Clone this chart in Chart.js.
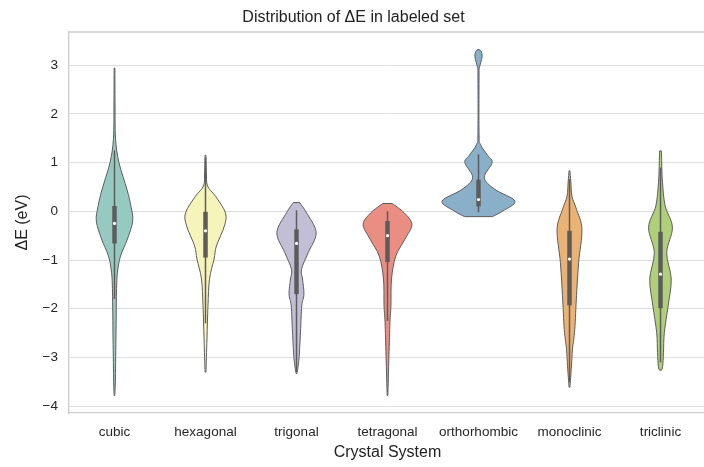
<!DOCTYPE html>
<html lang="en">
<head>
    <meta charset="UTF-8">
    <title>Distribution of ΔE in labeled set</title>
    <script src="https://cdn.jsdelivr.net/npm/chart.js"></script>
    <style>
        body { margin: 0; overflow: hidden; background: #fff; }
    </style>
</head>
<body>
    <canvas id="violinChart" width="710" height="467"></canvas>

    <script>
        // crystal systems along the x axis
        const systems = ['cubic', 'hexagonal', 'trigonal', 'tetragonal', 'orthorhombic', 'monoclinic', 'triclinic'];

        // violin outlines: [ΔE value, half width as fraction of the category slot]
        const cubicProfile = [[2.94, 0.004], [2.2, 0.006], [1.5, 0.011], [1.0, 0.049], [0.45, 0.137], [0.1, 0.181], [-0.2, 0.2], [-0.57, 0.142], [-0.92, 0.066], [-1.25, 0.033], [-1.66, 0.022], [-2.62, 0.016], [-3.5, 0.009], [-3.78, 0.004]];
        const hexagonalProfile = [[1.15, 0.005], [0.8, 0.01], [0.52, 0.022], [0.31, 0.11], [-0.03, 0.219], [-0.3, 0.208], [-0.71, 0.12], [-0.98, 0.094], [-1.39, 0.044], [-1.94, 0.027], [-2.62, 0.016], [-3.3, 0.005]];
        const trigonalProfile = [[0.18, 0.033], [-0.03, 0.11], [-0.44, 0.216], [-0.85, 0.128], [-1.19, 0.055], [-1.39, 0.066], [-1.7, 0.082], [-1.94, 0.058], [-2.48, 0.044], [-3.03, 0.027], [-3.33, 0.005]];
        const tetragonalProfile = [[0.16, 0.051], [-0.03, 0.183], [-0.27, 0.268], [-0.57, 0.192], [-0.92, 0.091], [-1.39, 0.044], [-1.94, 0.038], [-2.28, 0.027], [-2.97, 0.016], [-3.78, 0.004]];
        const orthorhombicProfile = [[3.32, 0.005], [3.28, 0.03], [3.18, 0.04], [3.05, 0.025], [2.95, 0.01], [2.8, 0.006], [1.6, 0.006], [1.37, 0.022], [1.15, 0.1], [1.0, 0.15], [0.69, 0.064], [0.45, 0.18], [0.21, 0.40], [0.01, 0.27], [-0.11, 0.153]];
        const monoclinicProfile = [[0.83, 0.005], [0.6, 0.015], [0.31, 0.027], [0.04, 0.077], [-0.37, 0.137], [-1.05, 0.1], [-1.73, 0.077], [-2.42, 0.058], [-2.83, 0.033], [-3.17, 0.022], [-3.61, 0.005]];
        const triclinicProfile = [[1.24, 0.01], [0.9, 0.015], [0.59, 0.022], [0.11, 0.051], [-0.33, 0.131], [-0.85, 0.068], [-1.39, 0.118], [-1.94, 0.084], [-2.49, 0.042], [-2.9, 0.033], [-3.18, 0.024], [-3.26, 0.012]];

        const profiles = [cubicProfile, hexagonalProfile, trigonalProfile, tetragonalProfile, orthorhombicProfile, monoclinicProfile, triclinicProfile];

        // inner box stats
        const medians = [-0.25, -0.4, -0.66, -0.5, 0.24, -0.98, -1.29];
        const q1 = [-0.66, -0.95, -1.70, -1.04, 0.1, -1.93, -1.99];
        const q3 = [0.11, -0.01, -0.37, -0.2, 0.65, -0.4, -0.42];
        const whiskerLow = [-1.8, -2.3, -3.3, -2.25, -0.02, -3.5, -3.1];
        const whiskerHigh = [1.25, 1.1, 0.02, 0.0, 1.17, 0.66, 0.9];

        const fills = ['#96cac1', '#f5f5bb', '#c1bed6', '#ea8d83', '#8aafc9', '#eab375', '#afcf78'];
        const lineGray = '#5c5c5c';
        const fontFamily = 'Liberation Sans, Arial, sans-serif';

        // smooth curve through points (catmull-rom -> bezier)
        function smoothTo(ctx, pts) {
            for (let i = 0; i < pts.length - 1; i++) {
                const p0 = pts[i - 1] || pts[i];
                const p1 = pts[i];
                const p2 = pts[i + 1];
                const p3 = pts[i + 2] || p2;
                const c1x = p1.x + (p2.x - p0.x) / 6, c1y = p1.y + (p2.y - p0.y) / 6;
                const c2x = p2.x - (p3.x - p1.x) / 6, c2y = p2.y - (p3.y - p1.y) / 6;
                ctx.bezierCurveTo(c1x, c1y, c2x, c2y, p2.x, p2.y);
            }
        }

        const violinPlugin = {
            id: 'violins',
            beforeDatasetsDraw(chart) {
                const ctx = chart.ctx;
                const xs = chart.scales.x, ys = chart.scales.y;
                const slot = xs.getPixelForValue(1) - xs.getPixelForValue(0);
                ctx.save();
                profiles.forEach((prof, i) => {
                    const cx = xs.getPixelForValue(i);
                    const right = prof.map(p => ({ x: cx + p[1] * slot, y: ys.getPixelForValue(p[0]) }));
                    const left = prof.map(p => ({ x: cx - p[1] * slot, y: ys.getPixelForValue(p[0]) })).reverse();
                    ctx.beginPath();
                    ctx.moveTo(right[0].x, right[0].y);
                    smoothTo(ctx, right);
                    ctx.lineTo(left[0].x, left[0].y);
                    smoothTo(ctx, left);
                    ctx.closePath();
                    ctx.fillStyle = fills[i];
                    ctx.fill();
                    ctx.lineWidth = 1;
                    ctx.strokeStyle = lineGray;
                    ctx.lineJoin = 'round';
                    ctx.stroke();

                    // whisker
                    ctx.beginPath();
                    ctx.lineWidth = 1.5;
                    ctx.moveTo(cx, ys.getPixelForValue(whiskerHigh[i]));
                    ctx.lineTo(cx, ys.getPixelForValue(whiskerLow[i]));
                    ctx.stroke();
                    // box
                    ctx.beginPath();
                    ctx.lineWidth = 4.5;
                    ctx.lineCap = 'butt';
                    ctx.moveTo(cx, ys.getPixelForValue(q3[i]));
                    ctx.lineTo(cx, ys.getPixelForValue(q1[i]));
                    ctx.stroke();
                });
                ctx.restore();
            },
            afterDraw(chart) {
                // top spine
                const a = chart.chartArea, ctx = chart.ctx;
                ctx.save();
                ctx.strokeStyle = '#cccccc';
                ctx.lineWidth = 1.3;
                ctx.beginPath();
                ctx.moveTo(a.left, a.top);
                ctx.lineTo(a.right, a.top);
                ctx.stroke();
                ctx.restore();
            }
        };

        const ctx = document.getElementById('violinChart').getContext('2d');
        new Chart(ctx, {
            type: 'line',
            data: {
                labels: systems,
                datasets: [{
                    label: 'median',
                    data: medians,
                    showLine: false,
                    pointRadius: 1.6,
                    pointBackgroundColor: '#ffffff',
                    pointBorderWidth: 0
                }]
            },
            plugins: [violinPlugin],
            options: {
                responsive: false,
                animation: false,
                layout: { padding: { left: 0, right: 3, top: 0, bottom: 0 } },
                plugins: {
                    legend: { display: false },
                    tooltip: { enabled: false },
                    title: {
                        display: true,
                        text: 'Distribution of ΔE in labeled set',
                        color: '#222',
                        font: { family: fontFamily, size: 16, weight: 'normal' },
                        padding: { top: 7.5, bottom: 5.3 }
                    }
                },
                scales: {
                    x: {
                        offset: true,
                        grid: { display: false, drawTicks: false },
                        border: { display: true, color: '#cccccc', width: 1.3 },
                        ticks: {
                            autoSkip: false, maxRotation: 0, padding: 11, color: '#262626',
                            font: { family: fontFamily, size: 13.5 }
                        },
                        title: {
                            display: true, text: 'Crystal System', color: '#222',
                            font: { family: fontFamily, size: 16 },
                            padding: { top: 4, bottom: 4.4 }
                        },
                        afterFit(scale) { scale.height = 54; }
                    },
                    y: {
                        min: -4.14,
                        max: 3.68,
                        grid: { color: '#dedede', lineWidth: 1, drawTicks: false },
                        border: { display: true, color: '#cccccc', width: 1.3 },
                        ticks: {
                            stepSize: 1, includeBounds: false, padding: 11, color: '#262626',
                            font: { family: fontFamily, size: 13.5 },
                            callback: v => String(v).replace('-', '\u2212')
                        },
                        title: {
                            display: true, text: 'ΔE (eV)', color: '#222',
                            font: { family: fontFamily, size: 16 },
                            padding: { top: 13.4, bottom: 0 }
                        },
                        afterFit(scale) { scale.width = 69; }
                    }
                }
            }
        });
    </script>
</body>
</html>
